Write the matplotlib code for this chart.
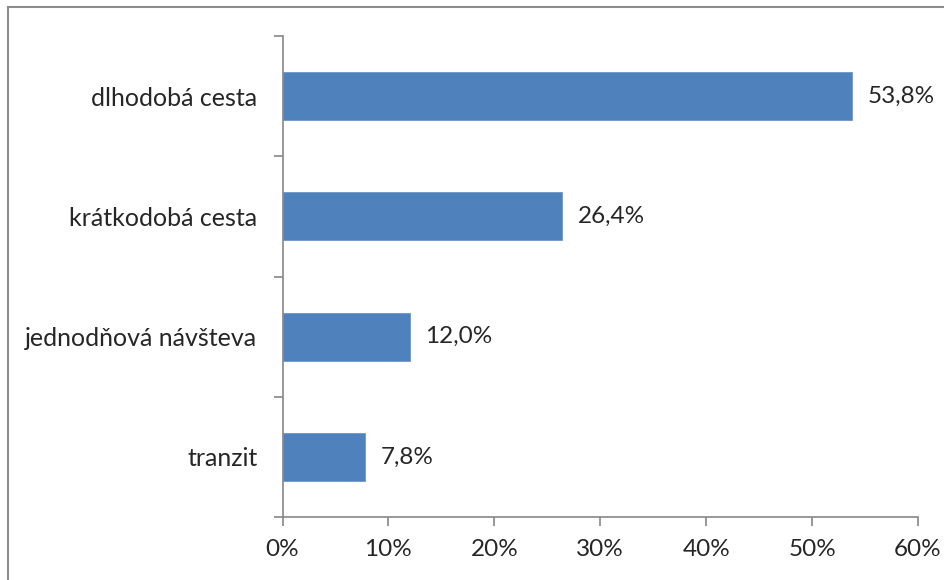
import matplotlib
matplotlib.use("Agg")
import matplotlib.pyplot as plt
from matplotlib.patches import Rectangle
from matplotlib.ticker import FixedLocator, PercentFormatter

categories = ["tranzit", "jednodňová návšteva", "krátkodobá cesta", "dlhodobá cesta"]
shares = [7.8, 12.0, 26.4, 53.8]
x_ticks = [0, 10, 20, 30, 40, 50, 60]

plt.rcParams["font.family"] = ["Lato", "DejaVu Sans"]
text_color = "#262626"
axis_color = "#868686"
bar_color = "#4F81BD"

W, H = 944, 580
fig = plt.figure(figsize=(W / 100, H / 100), dpi=100)

# outer chart-area frame (runs off the right and bottom edges)
fig.patches.append(Rectangle((8 / W, -0.05), 1.1, 1 - 7 / H + 0.05,
                             transform=fig.transFigure, fill=False,
                             edgecolor="#8c8c8c", linewidth=1.5))

ax = fig.add_axes([282.5 / W, 1 - 517 / H, (918 - 282.5) / W, (517 - 36) / H])

ypos = list(range(len(categories)))
bars = ax.barh(ypos, shares, height=0.4, color=bar_color,
               edgecolor="#6f96c8", linewidth=0.6, zorder=2)

for y, v in zip(ypos, shares):
    ax.annotate(f"{v:.1f}".replace(".", ",") + "%", (v, y),
                xytext=(11, 0), textcoords="offset points",
                va="center", ha="left", fontsize=17.5, color=text_color)

ax.set_xlim(0, 60)
ax.set_ylim(-0.5, len(categories) - 0.5)
ax.set_xticks(x_ticks)
ax.xaxis.set_major_formatter(PercentFormatter(decimals=0))
ax.set_yticks(ypos)
ax.set_yticklabels(categories)
ax.yaxis.set_minor_locator(FixedLocator([i - 0.5 for i in range(len(categories) + 1)]))

for s in ["top", "right"]:
    ax.spines[s].set_visible(False)
for s in ["left", "bottom"]:
    ax.spines[s].set_color(axis_color)
    ax.spines[s].set_linewidth(1.2)

ax.tick_params(axis="y", which="major", length=0, pad=18, labelsize=18,
               labelcolor=text_color)
ax.tick_params(axis="y", which="minor", length=6.5, width=1.2, color=axis_color)
ax.tick_params(axis="x", which="major", length=6.5, width=1.2, color=axis_color,
               pad=9, labelsize=17.5, labelcolor=text_color)

fig.savefig("out.png", dpi=100)
